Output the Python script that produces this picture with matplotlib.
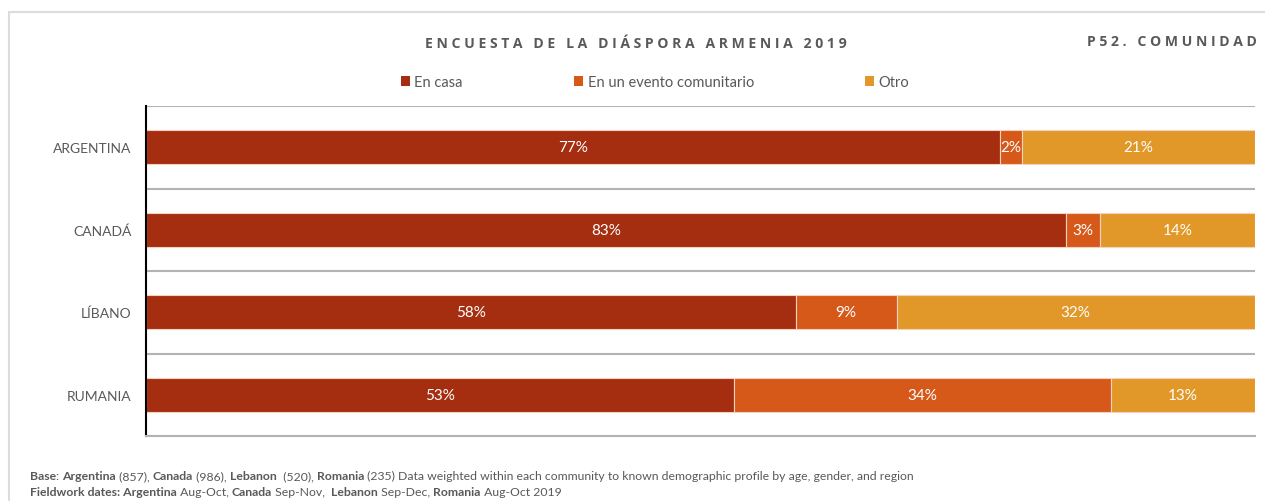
import matplotlib.pyplot as plt
from matplotlib.patches import Patch, Rectangle

# survey shares per community, % (rows top to bottom)
countries = ["ARGENTINA", "CANADÁ", "LÍBANO", "RUMANIA"]
series_names = ["En casa", "En un evento comunitario", "Otro"]
en_casa = [77, 83, 58, 53]
evento = [2, 3, 9, 34]
otro = [21, 14, 32, 13]

title = "ENCUESTA DE LA DIÁSPORA ARMENIA 2019"
question = "P52. COMUNIDAD"

footnote_1 = [
    ("Base", True), (": ", False), ("Argentina", True), (" (857), ", False),
    ("Canada", True), (" (986), ", False), ("Lebanon", True), ("  (520), ", False),
    ("Romania", True),
    (" (235) Data weighted within each community to known demographic profile by age, gender, and region", False),
]
footnote_2 = [
    ("Fieldwork dates: Argentina", True), (" Aug-Oct, ", False), ("Canada", True),
    (" Sep-Nov,  ", False), ("Lebanon", True), (" Sep-Dec, ", False),
    ("Romania", True), (" Aug-Oct 2019", False),
]

colors = ["#A52D10", "#D6591A", "#E29828"]
grey = "#595959"


def spaced(text: str) -> str:
    # wide letter spacing for the headings
    return "   ".join(" ".join(word) for word in text.split(" "))


fig = plt.figure(figsize=(12.65, 5.02), dpi=100)
ax = fig.add_axes([146 / 1265, 65 / 502, 1109 / 1265, 330 / 502])

# light frame round the panel
fig.add_artist(Rectangle((9 / 1265, -0.1), 1.2, 1.1 - 13 / 502,
                         transform=fig.transFigure, fill=False,
                         edgecolor="#dcdcdc", linewidth=1.5, clip_on=False))

ypos = list(range(len(countries)))[::-1]
left = [0.0] * len(countries)
totals = [a + b + c for a, b, c in zip(en_casa, evento, otro)]
for name, vals, col in zip(series_names, [en_casa, evento, otro], colors):
    shares = [v / t for v, t in zip(vals, totals)]
    ax.barh(ypos, shares, left=left, height=0.41, color=col,
            edgecolor="#f3d2c0", linewidth=0.8, label=name)
    for y, l, s, v in zip(ypos, left, shares, vals):
        ax.text(l + s / 2, y, f"{v}%", ha="center", va="center",
                color="white", fontsize=11, family="Lato")
    left = [l + s for l, s in zip(left, shares)]

ax.set_xlim(0, 1)
ax.set_ylim(-0.5, len(countries) - 0.5)
ax.set_yticks(ypos)
ax.set_yticklabels(countries, family="Lato", fontsize=10, color=grey)
ax.tick_params(axis="y", length=0, pad=10.5)
ax.set_xticks([])
for y in [0.5, 1.5, 2.5, 3.5]:
    ax.axhline(y, color="#b3b3b3", linewidth=1.5, zorder=0)
for side in ["top", "right"]:
    ax.spines[side].set_visible(False)
ax.spines["bottom"].set_color("#b3b3b3")
ax.spines["bottom"].set_linewidth(1.5)
ax.spines["left"].set_color("black")
ax.spines["left"].set_linewidth(1.5)

fig.text(636 / 1265, 1 - 44 / 502, spaced(title), ha="center", va="center",
         fontsize=10.1, fontweight="bold", color=grey, family="Open Sans")
fig.text(1257 / 1265, 1 - 42 / 502, spaced(question), ha="right", va="center",
         fontsize=10.1, fontweight="bold", color=grey, family="Open Sans")

handles = [Patch(facecolor=c, label=n) for c, n in zip(colors, series_names)]
fig.legend(handles=handles, loc="center", bbox_to_anchor=(655 / 1265, 1 - 83 / 502),
           ncol=3, frameon=False, columnspacing=7.6, handlelength=0.65,
           handleheight=0.65, handletextpad=0.3,
           prop={"family": "Lato", "size": 10.5}, labelcolor=grey)


def rich_line(parts, x, y):
    # chain pieces of mixed-weight text one after another
    prev = None
    for text, bold in parts:
        kw = dict(fontsize=8.8, color=grey, family="Lato",
                  fontweight="bold" if bold else "normal", va="bottom")
        if prev is None:
            prev = fig.text(x, y, text, ha="left", **kw)
        else:
            prev = ax.annotate(text, xy=(1, 0), xycoords=prev, ha="left",
                               annotation_clip=False, **kw)


rich_line(footnote_1, 30 / 1265, 1 - 482 / 502)
rich_line(footnote_2, 30 / 1265, 1 - 498 / 502)

fig.savefig("out.png", dpi=100)
